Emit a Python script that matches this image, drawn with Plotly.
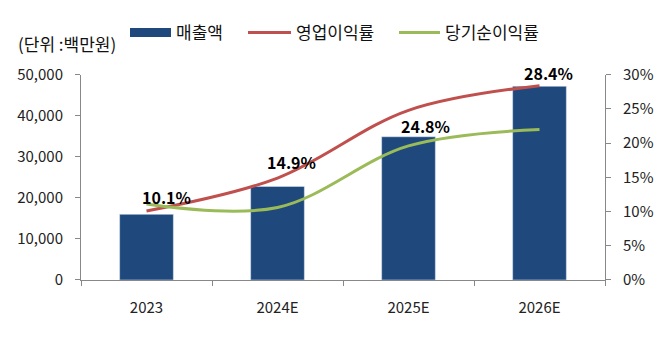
import plotly.graph_objects as go

categories = ["2023", "2024E", "2025E", "2026E"]
sales = [16000, 22800, 34900, 47200]          # 매출액 (백만원)
op_margin = [10.1, 14.9, 24.8, 28.4]          # 영업이익률 (%)
net_margin = [11.1, 10.6, 19.6, 22.0]         # 당기순이익률 (%)
label_texts = ["10.1%", "14.9%", "24.8%", "28.4%"]

BLUE = "#1F497D"
RED = "#C0504D"
GREEN = "#9BBB59"
FONT = "Noto Sans CJK KR"

fig = go.Figure()
fig.add_trace(go.Bar(x=categories, y=sales, marker_color=BLUE, showlegend=False,
                     name="매출액"))
# legend swatch for bars (wide rectangle)
fig.add_trace(go.Scatter(x=[categories[0]], y=[None], mode="lines", name="매출액",
                         legend="legend", line=dict(color=BLUE, width=9)))
fig.add_trace(go.Scatter(x=categories, y=op_margin, yaxis="y2", mode="lines",
                         name="영업이익률", legend="legend2",
                         line=dict(color=RED, width=3, shape="spline", smoothing=1)))
fig.add_trace(go.Scatter(x=categories, y=net_margin, yaxis="y2", mode="lines",
                         name="당기순이익률", legend="legend3",
                         line=dict(color=GREEN, width=3, shape="spline", smoothing=1)))

shifts = [(20, 14), (14, 16), (17, -16), (9, 13)]
for i, (v, t, (dx, dy)) in enumerate(zip(op_margin, label_texts, shifts)):
    fig.add_annotation(x=i, y=v, xref="x", yref="y2", text=t, showarrow=False,
                       xshift=dx, yshift=dy,
                       font=dict(family=FONT, size=16, color="#000000", weight="bold"))

fig.add_annotation(xref="paper", yref="paper", x=-0.124, y=1.152, xanchor="left",
                   yanchor="middle", text="(단위 :백만원)", showarrow=False,
                   font=dict(family=FONT, size=17, color="#111111"))

axis_common = dict(showgrid=False, zeroline=False, showline=True,
                   linecolor="#888888", linewidth=1, ticks="outside",
                   tickcolor="#888888", ticklen=5,
                   tickfont=dict(family=FONT, size=15, color="#222222"))

leg_common = dict(orientation="h", xref="container", yref="container",
                  y=0.902, xanchor="left", yanchor="middle",
                  font=dict(family=FONT, size=17, color="#111111"),
                  bgcolor="rgba(0,0,0,0)", borderwidth=0)

fig.update_layout(
    width=670, height=337,
    margin=dict(l=81, r=65, t=73, b=57),
    plot_bgcolor="white", paper_bgcolor="white",
    bargap=0.59,
    xaxis=dict(**axis_common, type="category", categoryorder="array",
               categoryarray=categories, tickson="boundaries", tickangle=0,
               range=[-0.5, len(categories) - 0.5], ticklabelstandoff=14),
    yaxis=dict(**axis_common, range=[0, 50000], dtick=10000, tickformat=",",
               ticklabelstandoff=9),
    yaxis2=dict(**axis_common, overlaying="y", side="right", range=[0, 30],
                dtick=5, ticksuffix="%", ticklabelstandoff=9),
    legend=dict(**leg_common, x=125 / 670, itemwidth=41),
    legend2=dict(**leg_common, x=243 / 670, itemwidth=43),
    legend3=dict(**leg_common, x=394 / 670, itemwidth=41),
)

fig.write_html("out.html")
